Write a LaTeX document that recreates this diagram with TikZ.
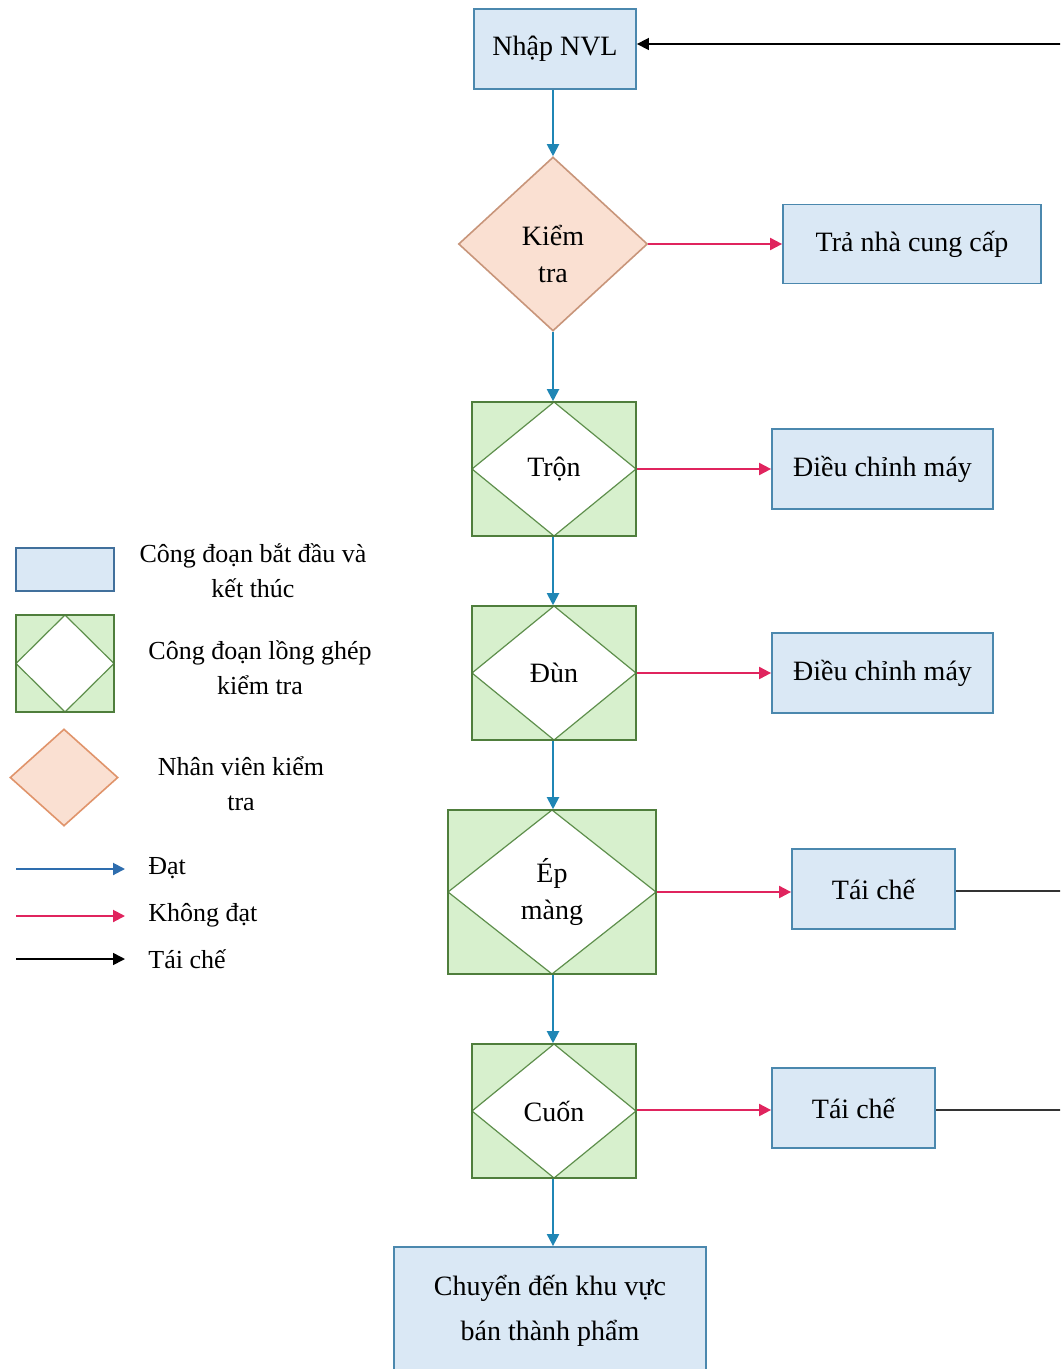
\documentclass[tikz,border=0pt]{standalone}
\usepackage{fontspec}
\setmainfont{Liberation Serif}
\usetikzlibrary{arrows.meta,shapes.geometric}

\definecolor{boxfill}{HTML}{DAE8F5}
\definecolor{boxline}{HTML}{4B88AE}
\definecolor{legboxline}{HTML}{41709C}
\definecolor{grnfill}{HTML}{D7F0CD}
\definecolor{grnline}{HTML}{4F7E3C}
\definecolor{grninner}{HTML}{5E8F4C}
\definecolor{peachfill}{HTML}{FAE0D2}
\definecolor{peachline}{HTML}{C8957A}
\definecolor{legpeachline}{HTML}{E0946B}
\definecolor{okblue}{HTML}{1F86B5}
\definecolor{legblue}{HTML}{2E6DAE}
\definecolor{failred}{HTML}{E0245E}

\tikzset{
  mainfont/.style={font=\fontsize{14}{18.5}\selectfont},
  legfont/.style={font=\fontsize{13}{17.5}\selectfont},
  stage/.style={draw=boxline, fill=boxfill, line width=0.9pt, inner sep=0pt,
    align=center, mainfont},
  checkstage/.style={draw=grnline, fill=grnfill, line width=0.8pt, inner sep=0pt,
    align=center, mainfont,
    path picture={\draw[grninner, fill=white, line width=0.6pt]
      (path picture bounding box.north) -- (path picture bounding box.east) --
      (path picture bounding box.south) -- (path picture bounding box.west) -- cycle;}},
  inspect/.style={diamond, draw=peachline, fill=peachfill, line width=0.8pt,
    inner sep=0pt, align=center, mainfont},
  tip/.style={-{Triangle[length=6pt,width=6pt]}},
  pass/.style={draw=okblue, line width=1pt, tip},
  fail/.style={draw=failred, line width=1pt, tip},
  redo/.style={draw=black, line width=0.8pt, tip},
  plain/.style={draw=black!80, line width=0.8pt},
}

\begin{document}
\begin{tikzpicture}[x=0.5pt, y=-0.5pt]
  \useasboundingbox (0,0) rectangle (1060,1369);
  \clip (0,0) rectangle (1060,1369);

  % main process column
  \node[stage, minimum width=81pt, minimum height=40pt] (nvl) at (555,49) {Nhập NVL};
  \node[inspect, minimum width=94.5pt, minimum height=87pt,
    label={[mainfont, align=center, yshift=-5pt]center:Kiểm\\tra}] (check) at (553,244) {};
  \node[checkstage, minimum width=82pt, minimum height=67pt] (tron) at (554,469) {Trộn};
  \node[checkstage, minimum width=82pt, minimum height=67pt] (dun) at (554,673) {Đùn};
  \node[checkstage, minimum width=104pt, minimum height=82pt] (ep) at (552,892) {Ép\\màng};
  \node[checkstage, minimum width=82pt, minimum height=67pt] (cuon) at (554,1111) {Cuốn};
  \node[stage, minimum width=156pt, minimum height=64pt, font=\fontsize{14}{22.5}\selectfont]
    (final) at (550,1311) {Chuyển đến khu vực\\bán thành phẩm};

  % side outcomes
  \node[stage, minimum width=129pt, minimum height=39.5pt] (supplier) at (912,244) {Trả nhà cung cấp};
  \node[stage, minimum width=110.5pt, minimum height=40pt] (adj1) at (882.5,469) {Điều chỉnh máy};
  \node[stage, minimum width=110.5pt, minimum height=40pt] (adj2) at (882.5,673) {Điều chỉnh máy};
  \node[stage, minimum width=81.5pt, minimum height=40pt] (tc1) at (873.5,889) {Tái chế};
  \node[stage, minimum width=81.5pt, minimum height=40pt] (tc2) at (853.5,1108) {Tái chế};

  % recycle loop ends at the right edge
  \coordinate (loopin) at (1065,44);
  \coordinate (loop1) at (1065,891);
  \coordinate (loop2) at (1065,1110);

  % passing flow
  \draw[pass] (nvl.south -| check.north) -- (check.north);
  \draw[pass] (check.south) -- (check.south |- tron.north);
  \draw[pass] (tron.south -| check.south) -- (dun.north -| check.south);
  \draw[pass] (dun.south -| check.south) -- (ep.north -| check.south);
  \draw[pass] (ep.south -| check.south) -- (cuon.north -| check.south);
  \draw[pass] (cuon.south -| check.south) -- (final.north -| check.south);

  % failing flow
  \draw[fail] (check.east) -- (check.east -| supplier.west);
  \draw[fail] (tron.east) -- (tron.east -| adj1.west);
  \draw[fail] (dun.east) -- (dun.east -| adj2.west);
  \draw[fail] (ep.east) -- (ep.east -| tc1.west);
  \draw[fail] (cuon.east |- loop2) -- (tc2.west |- loop2);

  % recycling
  \draw[redo] (loopin) -- (loopin -| nvl.east);
  \draw[plain] (tc1.east |- loop1) -- (loop1);
  \draw[plain] (tc2.east |- loop2) -- (loop2);

  % legend
  \node[draw=legboxline, fill=boxfill, line width=0.8pt, minimum width=49pt,
    minimum height=21.5pt, inner sep=0pt] (legbox) at (65,569.5) {};
  \node[legfont, align=center] (legboxtext) at (253,571) {Công đoạn bắt đầu và\\kết thúc};
  \node[checkstage, minimum width=49pt, minimum height=48.5pt] (leggreen) at (65,663.5) {};
  \node[legfont, align=center] (leggreentext) at (260,668) {Công đoạn lồng ghép\\kiểm tra};
  \node[diamond, draw=legpeachline, fill=peachfill, line width=0.8pt, inner sep=0pt,
    minimum width=54pt, minimum height=48.5pt] (legdiamond) at (64,777.5) {};
  \node[legfont, align=center] (legdiamondtext) at (241,784) {Nhân viên kiểm\\tra};

  \coordinate (lb1) at (16,869);  \coordinate (lb2) at (125,869);
  \coordinate (lr1) at (16,916);  \coordinate (lr2) at (125,916);
  \coordinate (lk1) at (16,959);  \coordinate (lk2) at (125,959);
  \draw[draw=legblue, line width=1pt, tip] (lb1) -- (lb2);
  \draw[fail] (lr1) -- (lr2);
  \draw[redo] (lk1) -- (lk2);
  \node[legfont, anchor=west, inner sep=0pt] (legpass) at (148,868) {Đạt};
  \node[legfont, anchor=west, inner sep=0pt] (legfail) at (148,915) {Không đạt};
  \node[legfont, anchor=west, inner sep=0pt] (legredo) at (148,959) {Tái chế};
\end{tikzpicture}
\end{document}
